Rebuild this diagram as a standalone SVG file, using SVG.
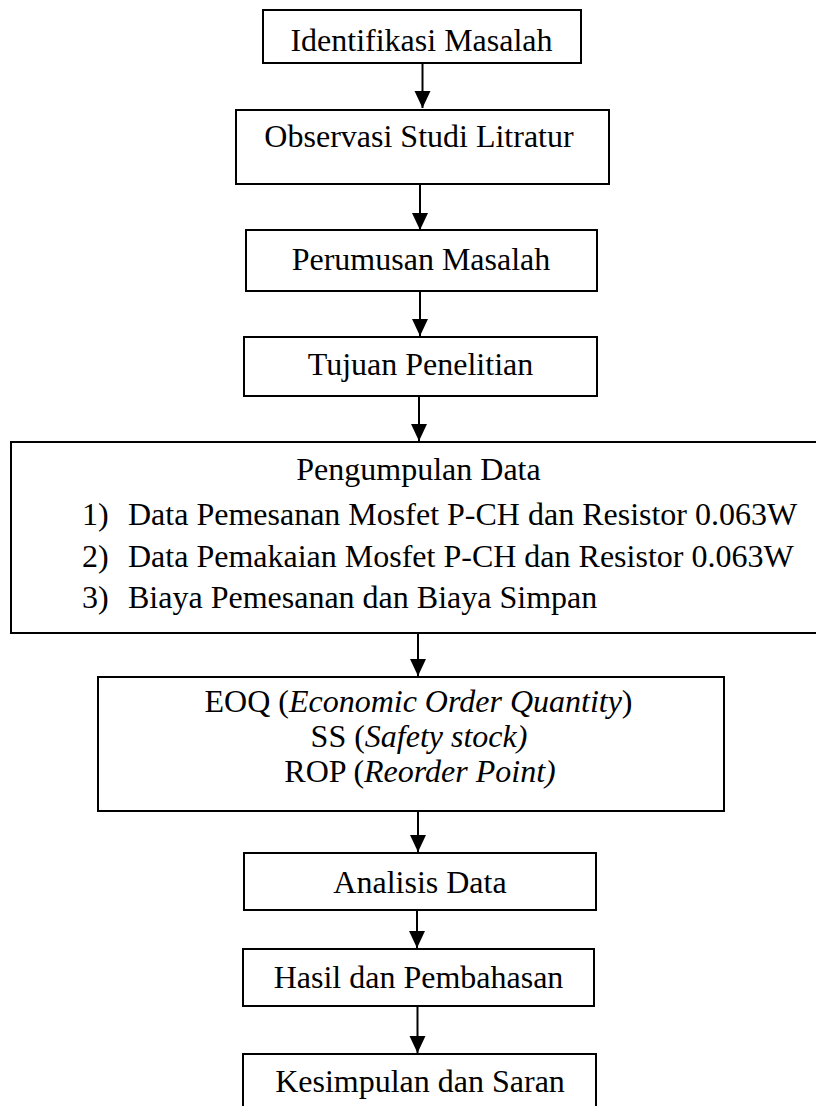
<svg xmlns="http://www.w3.org/2000/svg" width="816" height="1106" viewBox="0 0 816 1106">
<style>
.box{fill:#fff;stroke:#000;stroke-width:2}
.t{font-family:"Liberation Serif","Times New Roman",serif;font-size:32px;fill:#000}
.m{text-anchor:middle}
.i{font-style:italic}
.c{stroke:#000;stroke-width:2;fill:none}
</style>
<defs>
<marker id="ah" markerUnits="userSpaceOnUse" markerWidth="20" markerHeight="20" refX="17" refY="8" orient="auto">
<path d="M0,0 L17,8 L0,16 Z" fill="#000"/>
</marker>
</defs>
<rect width="816" height="1106" fill="#fff"/>
<g id="connectors">
<line class="c" x1="422.5" y1="63" x2="422.5" y2="108" marker-end="url(#ah)"/>
<line class="c" x1="420" y1="184" x2="420" y2="230" marker-end="url(#ah)"/>
<line class="c" x1="420" y1="291" x2="420" y2="336" marker-end="url(#ah)"/>
<line class="c" x1="419" y1="396" x2="419" y2="441" marker-end="url(#ah)"/>
<line class="c" x1="418" y1="633" x2="418" y2="676" marker-end="url(#ah)"/>
<line class="c" x1="418" y1="811" x2="418" y2="852" marker-end="url(#ah)"/>
<line class="c" x1="417" y1="910" x2="417" y2="948" marker-end="url(#ah)"/>
<line class="c" x1="417.5" y1="1006" x2="417.5" y2="1053" marker-end="url(#ah)"/>
</g>
<g id="n1">
<rect class="box" x="263" y="10" width="318" height="53"/>
<text class="t m" x="421.5" y="51">Identifikasi Masalah</text>
</g>
<g id="n2">
<rect class="box" x="236" y="110" width="373" height="74"/>
<text class="t m" x="419" y="147">Observasi Studi Litratur</text>
</g>
<g id="n3">
<rect class="box" x="246" y="230" width="351" height="61"/>
<text class="t m" x="421" y="270">Perumusan Masalah</text>
</g>
<g id="n4">
<rect class="box" x="244" y="337" width="353" height="59"/>
<text class="t m" x="420.5" y="375">Tujuan Penelitian</text>
</g>
<g id="n5">
<rect class="box" x="11" y="442" width="808" height="191"/>
<text class="t m" x="418.5" y="480">Pengumpulan Data</text>
<text class="t" x="82" y="525">1)</text>
<text class="t" x="128" y="525">Data Pemesanan Mosfet P-CH dan Resistor 0.063W</text>
<text class="t" x="82" y="567">2)</text>
<text class="t" x="128" y="567">Data Pemakaian Mosfet P-CH dan Resistor 0.063W</text>
<text class="t" x="82" y="608">3)</text>
<text class="t" x="128" y="608">Biaya Pemesanan dan Biaya Simpan</text>
</g>
<g id="n6">
<rect class="box" x="98" y="677" width="626" height="134"/>
<text class="t m" x="418.5" y="712">EOQ (<tspan class="i">Economic Order Quantity</tspan>)</text>
<text class="t m" x="419" y="747">SS (<tspan class="i">Safety stock)</tspan></text>
<text class="t m" x="420" y="782">ROP (<tspan class="i">Reorder Point)</tspan></text>
</g>
<g id="n7">
<rect class="box" x="244" y="853" width="352" height="57"/>
<text class="t m" x="420" y="893">Analisis Data</text>
</g>
<g id="n8">
<rect class="box" x="243" y="949" width="351" height="57"/>
<text class="t m" x="418.5" y="988">Hasil dan Pembahasan</text>
</g>
<g id="n9">
<rect class="box" x="243" y="1054" width="353" height="60"/>
<text class="t m" x="420" y="1092">Kesimpulan dan Saran</text>
</g>
</svg>
